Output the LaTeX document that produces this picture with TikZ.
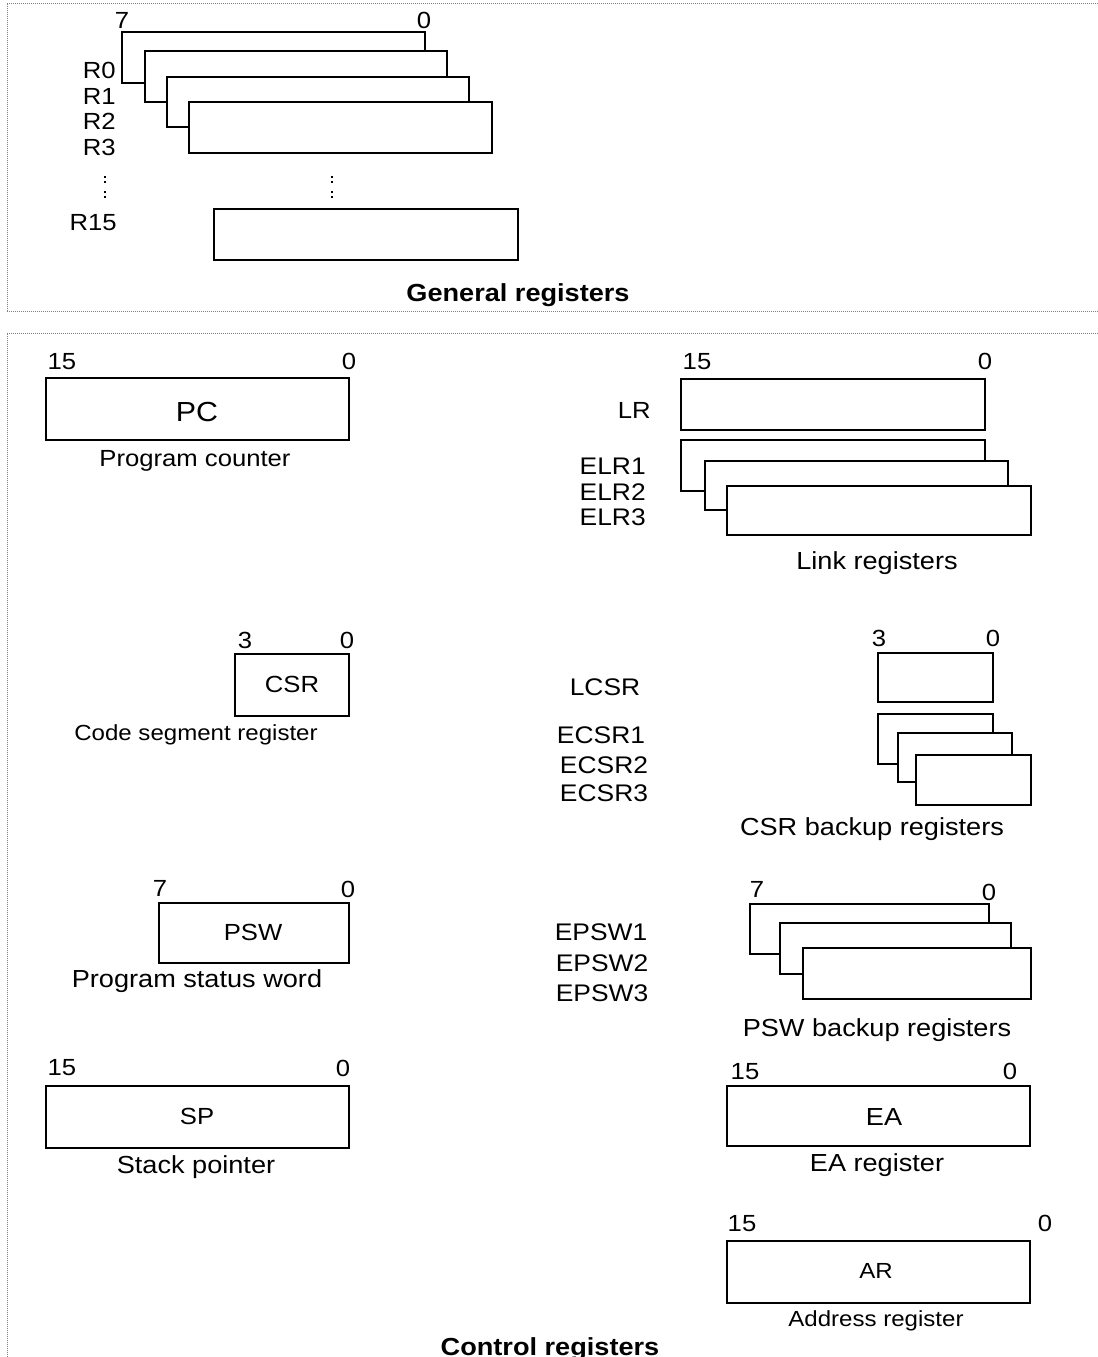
\documentclass[tikz,border=0pt]{standalone}
\usepackage{fontspec}
\setmainfont{Liberation Sans}[FakeStretch=1.1]
\usetikzlibrary{fit}
\tikzset{
  frame/.style={line width=0.75pt, gray, dash pattern=on 0.75pt off 0.75pt},
  reg/.style={draw, line width=1.85pt, fill=white, inner sep=0pt},
  lbl/.style={inner sep=0pt, anchor=base, font=\fontsize{18.5}{22}\selectfont},
  lblm/.style={inner sep=0pt, anchor=base, font=\fontsize{18}{21}\selectfont},
  num/.style={inner sep=0pt, anchor=base, font=\fontsize{17.5}{21}\selectfont},
  sml/.style={inner sep=0pt, anchor=base, font=\fontsize{16.4}{19}\selectfont},
  big/.style={inner sep=0pt, anchor=base, font=\fontsize{20.7}{24}\selectfont},
  ttl/.style={inner sep=0pt, anchor=base, font=\bfseries\fontsize{18.5}{22}\selectfont},
  rlab/.style={num, anchor=base east},
  elab/.style={lblm, anchor=base east},
  vdot/.style={fill=black}
}
\begin{document}
\begin{tikzpicture}[x=0.75pt,y=-0.75pt]
\useasboundingbox (0,0) rectangle (1098,1357);
% frames
\draw[frame] (7,311) -- (7,3) -- (1098,3);
\draw[frame] (7,311) -- (1098,311);
\draw[frame] (7,1357) -- (7,333) -- (1098,333);

% ---------- General registers ----------
\node[num] (g7) at (122,28.5) {7};
\node[num] (g0) at (424,28.5) {0};
\node[reg, fit={(122,32) (425,83)}] (r0) {};
\node[reg, fit={(145,51) (447,102)}] (r1) {};
\node[reg, fit={(167,77) (469,127)}] (r2) {};
\node[reg, fit={(189,102) (492,153)}] (r3) {};
\node[reg, fit={(214,209) (518,260)}] (r15) {};
\node[rlab] (lr0) at (116,78.3) {R0};
\node[rlab] (lr1) at (116,104.3) {R1};
\node[rlab] (lr2) at (116,129.3) {R2};
\node[rlab] (lr3) at (116,155.3) {R3};
\node[rlab] (lr15) at (117,230.3) {R15};
\foreach \xx in {105,332}{
  \foreach \yy in {177,182,192,197}{
    \fill[vdot] (\xx-1.3,\yy-1.3) rectangle (\xx+1.3,\yy+1.3);
  }
}
\node[ttl] (gtitle) at (518,301.8) {General registers};

% ---------- Program counter ----------
\node[num] (pc15) at (62,369.3) {15};
\node[num] (pc0) at (349,369.3) {0};
\node[reg, fit={(46,378) (349,440)}] (pc) {};
\node[big] (pctxt) at (197,421) {PC};
\node[num] (pccap) at (195,466.3) {Program counter};

% ---------- Link registers ----------
\node[num] (lr15b) at (697,369.3) {15};
\node[num] (lr0b) at (985,369.3) {0};
\node[reg, fit={(681,379) (985,430)}] (lrbox) {};
\node[reg, fit={(681,440) (985,491)}] (elr1) {};
\node[reg, fit={(705,461) (1008,510)}] (elr2) {};
\node[reg, fit={(727,486) (1031,535)}] (elr3) {};
\node[num, anchor=base east] (lrlab) at (651,418.3) {LR};
\node[elab] (elr1lab) at (646,474.6) {ELR1};
\node[elab] (elr2lab) at (646,500.6) {ELR2};
\node[elab] (elr3lab) at (646,525.6) {ELR3};
\node[lbl] (lrcap) at (877,569.8) {Link registers};

% ---------- CSR ----------
\node[num] (csr3) at (245,648.3) {3};
\node[num] (csr0) at (347,648.3) {0};
\node[reg, fit={(235,654) (349,716)}] (csr) {};
\node[num] (csrtxt) at (292,692.3) {CSR};
\node[sml] (csrcap) at (196,740.6) {Code segment register};

% ---------- CSR backup ----------
\node[num] (lcsr3) at (879,646.3) {3};
\node[num] (lcsr0) at (993,646.3) {0};
\node[reg, fit={(878,653) (993,702)}] (lcsr) {};
\node[reg, fit={(878,714) (993,764)}] (ecsr1) {};
\node[reg, fit={(898,733) (1012,782)}] (ecsr2) {};
\node[reg, fit={(916,755) (1031,805)}] (ecsr3) {};
\node[lblm] (lcsrlab) at (605,695.6) {LCSR};
\node[lblm] (ecsr1lab) at (601,743.6) {ECSR1};
\node[lblm] (ecsr2lab) at (604,773.6) {ECSR2};
\node[lblm] (ecsr3lab) at (604,801.6) {ECSR3};
\node[lbl] (csrbcap) at (872,835.8) {CSR backup registers};

% ---------- PSW ----------
\node[num] (psw7) at (160,896.3) {7};
\node[num] (psw0) at (348,897.3) {0};
\node[reg, fit={(159,903) (349,963)}] (psw) {};
\node[num] (pswtxt) at (253,940.3) {PSW};
\node[lbl] (pswcap) at (197,987.8) {Program status word};

% ---------- PSW backup ----------
\node[num] (epsw7) at (757,897.3) {7};
\node[num] (epsw0) at (989,900.3) {0};
\node[reg, fit={(750,904) (989,954)}] (epsw1) {};
\node[reg, fit={(780,923) (1011,974)}] (epsw2) {};
\node[reg, fit={(803,948) (1031,999)}] (epsw3) {};
\node[lblm] (epsw1lab) at (601,940.6) {EPSW1};
\node[lblm] (epsw2lab) at (602,971.6) {EPSW2};
\node[lblm] (epsw3lab) at (602,1001.6) {EPSW3};
\node[lbl] (pswbcap) at (877,1036.8) {PSW backup registers};

% ---------- SP ----------
\node[num] (sp15) at (62,1075.3) {15};
\node[num] (sp0) at (343,1076.3) {0};
\node[reg, fit={(46,1086) (349,1148)}] (sp) {};
\node[num] (sptxt) at (197,1124.3) {SP};
\node[lbl] (spcap) at (196,1173.8) {Stack pointer};

% ---------- EA ----------
\node[num] (ea15) at (745,1079.3) {15};
\node[num] (ea0) at (1010,1079.3) {0};
\node[reg, fit={(727,1086) (1030,1146)}] (ea) {};
\node[lbl] (eatxt) at (884,1125.8) {EA};
\node[lbl] (eacap) at (877,1171.8) {EA register};

% ---------- AR ----------
\node[num] (ar15) at (742,1231.3) {15};
\node[num] (ar0) at (1045,1231.3) {0};
\node[reg, fit={(727,1241) (1030,1303)}] (ar) {};
\node[sml] (artxt) at (876,1278.6) {AR};
\node[sml] (arcap) at (876,1326.6) {Address register};

\node[ttl] (ctitle) at (550,1355) {Control registers};
\end{tikzpicture}
\end{document}
